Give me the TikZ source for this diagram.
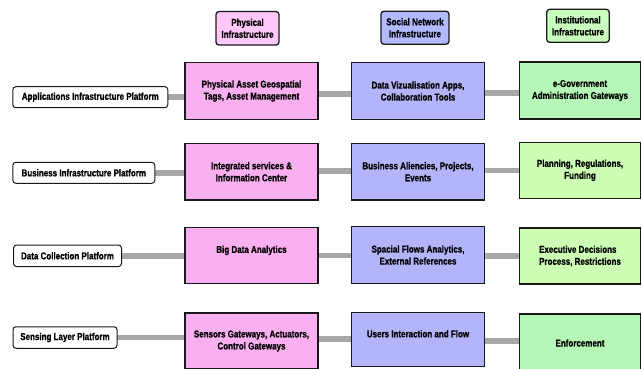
\documentclass[tikz,border=0pt]{standalone}
\usepackage{fontspec}
\setmainfont{Liberation Sans Bold}[FakeStretch=0.80, FakeBold=0.8]
\usetikzlibrary{backgrounds}
\definecolor{pinkbox}{RGB}{249,175,240}
\definecolor{pinkhdr}{RGB}{255,200,248}
\definecolor{bluebox}{RGB}{180,180,250}
\definecolor{bluehdr}{RGB}{178,186,255}
\definecolor{greenA}{RGB}{182,246,182}
\definecolor{greenB}{RGB}{204,255,180}
\definecolor{greenhdr}{RGB}{200,255,190}
\definecolor{conncol}{RGB}{168,168,168}
\begin{document}
\begin{tikzpicture}[x=1pt,y=-1pt,
  every node/.style={font=\fontsize{10}{12}\selectfont, align=center, inner sep=0pt, outer sep=0pt},
  hdr/.style={draw=black!90, line width=1.3pt, rounded corners=3pt},
  plat/.style={draw=black!90, fill=white, line width=1pt, rounded corners=3pt},
  cell/.style={draw=black!90, line width=1.2pt},
  conn/.style={draw=conncol, line width=5.5pt}]
\useasboundingbox (0,0) rectangle (642,369);

% headers
\node[hdr, fill=pinkhdr, minimum width=63pt, minimum height=33.5pt] (hP) at (247.5,28.3) {Physical\\Infrastructure};
\node[hdr, fill=bluehdr, minimum width=68pt, minimum height=33pt] (hS) at (415,27.7) {Social Network\\Infrastructure};
\node[hdr, fill=greenhdr, minimum width=62.6pt, minimum height=33pt] (hI) at (578,25.8) {Institutional\\Infrastructure};

% platform labels
\node[plat, minimum width=155pt, minimum height=21pt] (L1) at (90.3,97.2) {Applications Infrastructure Platform};
\node[plat, minimum width=142pt, minimum height=21pt] (L2) at (83.8,172.8) {Business Infrastructure Platform};
\node[plat, minimum width=108pt, minimum height=21.5pt] (L3) at (67.5,255.8) {Data Collection Platform};
\node[plat, minimum width=104pt, minimum height=21.5pt] (L4) at (65,337.5) {Sensing Layer Platform};

% row 1
\node[cell, fill=pinkbox, minimum width=133pt, minimum height=57pt] (P1) at (251.5,91) {Physical Asset Geospatial\\Tags, Asset Management};
\node[cell, fill=bluebox, minimum width=133pt, minimum height=57pt] (B1) at (418,91) {Data Vizualisation Apps,\\Collaboration Tools};
\node[cell, fill=greenA, minimum width=121pt, minimum height=57pt] (G1) at (580,90.5) {e-Government\\Administration Gateways};
% row 2
\node[cell, fill=pinkbox, minimum width=133pt, minimum height=56.7pt] (P2) at (251.5,171.7) {Integrated services \&\\Information Center};
\node[cell, fill=bluebox, minimum width=133pt, minimum height=56.7pt] (B2) at (418,171.7) {Business Aliencies, Projects,\\Events};
\node[cell, fill=greenB, minimum width=121pt, minimum height=56pt] (G2) at (580,170.3) {Planning, Regulations,\\Funding};
% row 3
\node[cell, fill=pinkbox, minimum width=133pt, minimum height=56pt] (P3) at (251.5,255.3) {Big Data Analytics\\\mbox{}};
\node[cell, fill=bluebox, minimum width=133pt, minimum height=56.6pt] (B3) at (418,255) {Spacial Flows Analytics,\\External References};
\node[cell, fill=greenB, minimum width=121pt, minimum height=56pt, align=left] (G3) at (580,256) {Executive Decisions\\Process, Restrictions};
% row 4
\node[cell, fill=pinkbox, minimum width=133pt, minimum height=56pt] (P4) at (251.5,341) {Sensors Gateways, Actuators,\\Control Gateways};
\node[cell, fill=bluebox, minimum width=133pt, minimum height=54pt] (B4) at (418,339.7) {Users Interaction and Flow\\\mbox{}};
\node[cell, fill=greenA, minimum width=121pt, minimum height=58pt] (G4) at (580,343) {Enforcement};

% connectors
\begin{scope}[on background layer]
\draw[conn] (L1.east) -- (L1.east -| P1.west);
\draw[conn] ([yshift=-3pt]P1.east) -- ([yshift=-3pt]P1.east -| B1.west);
\draw[conn] ([yshift=-2pt]B1.east) -- ([yshift=-2pt]B1.east -| G1.west);
\draw[conn] (L2.east) -- (L2.east -| P2.west);
\draw[conn] ([yshift=0.5pt]P2.east) -- ([yshift=0.5pt]P2.east -| B2.west);
\draw[conn] ([yshift=1pt]B2.east) -- ([yshift=1pt]B2.east -| G2.west);
\draw[conn] (L3.east) -- (L3.east -| P3.west);
\draw[conn] ([yshift=-0.3pt]P3.east) -- ([yshift=-0.3pt]P3.east -| B3.west);
\draw[conn] ([yshift=-1pt]B3.east) -- ([yshift=-1pt]B3.east -| G3.west);
\draw[conn] (L4.east) -- (L4.east -| P4.west);
\draw[conn] ([yshift=2pt]P4.east) -- ([yshift=2pt]P4.east -| B4.west);
\draw[conn] ([yshift=-1.3pt]B4.east) -- ([yshift=-1.3pt]B4.east -| G4.west);
\end{scope}
\end{tikzpicture}
\end{document}
